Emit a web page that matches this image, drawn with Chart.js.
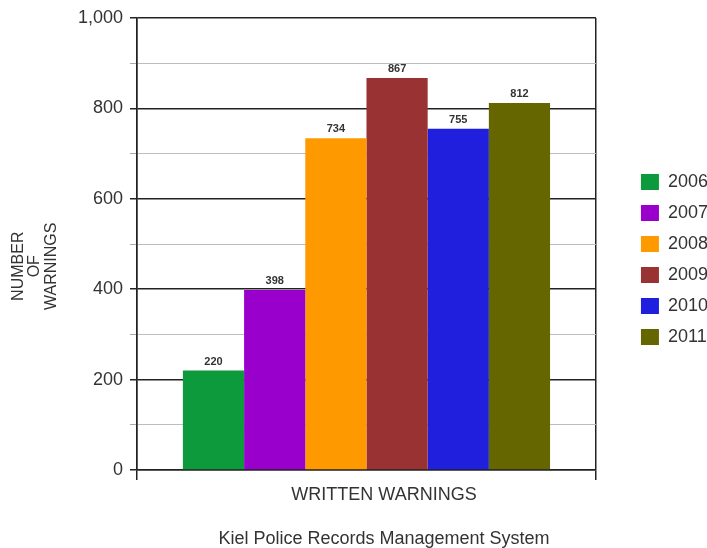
<!DOCTYPE html>
<html>
<head>
<meta charset="utf-8">
<script src="https://cdn.jsdelivr.net/npm/chart.js@4/dist/chart.umd.min.js"></script>
<style>
  html, body { margin:0; padding:0; background:#fff; overflow:hidden; }
  #wrap { width:768px; height:548px; }
</style>
</head>
<body>
<div id="wrap"><canvas id="chartWarnings" width="768" height="548"></canvas></div>
<script>
const years = ["2006", "2007", "2008", "2009", "2010", "2011"];
const warnings = [220, 398, 734, 867, 755, 812];
const barColors = ["#0c9a3c", "#9900cc", "#ff9900", "#993333", "#1f1fdd", "#666600"];
const category = ["WRITTEN WARNINGS"];
const yTitle = ["NUMBER", "OF", "WARNINGS"];
const footer = "Kiel Police Records Management System";

Chart.defaults.font.family = "'Liberation Sans', Arial, sans-serif";
Chart.defaults.color = "#333";

// value printed on top of each bar
const valueLabels = {
  id: "valueLabels",
  afterDatasetsDraw(chart){
    const ctx = chart.ctx;
    ctx.save();
    ctx.font = "bold 11px 'Liberation Sans', Arial, sans-serif";
    ctx.fillStyle = "#333";
    ctx.textAlign = "center";
    ctx.textBaseline = "alphabetic";
    chart.data.datasets.forEach((ds, i) => {
      chart.getDatasetMeta(i).data.forEach((bar, j) => {
        ctx.fillText(String(ds.data[j]), bar.x, bar.y - 6);
      });
    });
    ctx.restore();
  }
};

const isMajor = c => c.tick && c.tick.value % 200 === 0;
// trailing spaces push the rotated title a little lower, as in the original
const titlePad = " ".repeat(10);
// the original legend was wider than the visible crop
const legendPad = " ".repeat(10);

new Chart(document.getElementById("chartWarnings"), {
  type: "bar",
  data: {
    labels: category,
    datasets: years.map((y, i) => ({
      label: y,
      data: [warnings[i]],
      backgroundColor: barColors[i],
      borderWidth: 0,
      barPercentage: 1,
      categoryPercentage: 0.8
    }))
  },
  options: {
    responsive: false,
    animation: false,
    devicePixelRatio: 1,
    layout: { padding: { top: 18, left: 0, right: 0, bottom: 0 } },
    plugins: {
      legend: {
        position: "right",
        align: "center",
        fullSize: false,
        title: { display: true, text: "", font: { size: 12, lineHeight: 1 }, padding: { top: 19, bottom: 0 } },
        labels: {
          boxWidth: 18, boxHeight: 16, padding: 13, font: { size: 18 }, color: "#333",
          generateLabels: chart => Chart.defaults.plugins.legend.labels.generateLabels(chart)
            .map(l => ({ ...l, text: l.text + legendPad }))
        }
      },
      subtitle: {
        display: true, position: "bottom", text: category[0],
        font: { size: 18, lineHeight: 1 }, color: "#333",
        padding: { top: 6, bottom: 0 }
      },
      title: {
        display: true, position: "bottom", text: footer,
        font: { size: 18, weight: "normal", lineHeight: 1 }, color: "#333",
        padding: { top: 26, bottom: 0 }
      },
      tooltip: { enabled: false }
    },
    scales: {
      x: {
        ticks: { display: false },
        // the two category edge lines make the left/right frame of the plot
        grid: { drawOnChartArea: true, tickLength: 10, color: "#222", lineWidth: 1.5 },
        border: { color: "#222", width: 1.5 }
      },
      y: {
        min: 0, max: 1000,
        ticks: {
          stepSize: 100, autoSkip: false, padding: 7, font: { size: 18 }, color: "#333",
          callback: v => v % 200 === 0 ? v.toLocaleString("en-US") : ""
        },
        grid: {
          tickLength: 7,
          color: c => isMajor(c) ? "#222" : "#bdbdbd",
          tickColor: c => isMajor(c) ? "#222" : "#aaa",
          lineWidth: c => isMajor(c) ? 1.5 : 1
        },
        border: { color: "#222", width: 1.5 },
        title: {
          display: true,
          text: yTitle.map(s => s + titlePad),
          font: { size: 16, lineHeight: 1.03 }, color: "#333",
          padding: { top: 10, bottom: 0 }
        },
        afterFit(s){ s.width = 137; }
      },
      // hidden spacer between plot and legend
      yR: {
        display: false,
        position: "right",
        afterFit(s){ s.width = 32; }
      }
    }
  },
  plugins: [valueLabels]
});
</script>
</body>
</html>
